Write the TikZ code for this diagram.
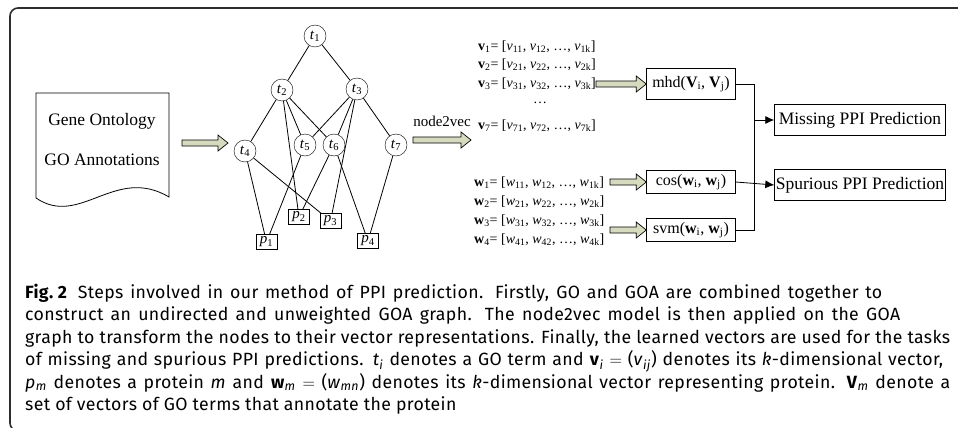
\documentclass[tikz,border=0pt]{standalone}
\usepackage{fontspec}
\setmainfont{Liberation Serif}
\newfontfamily\capfont[LetterSpace=2]{Fira Sans}
\usetikzlibrary{arrows.meta, calc, positioning}
\definecolor{arrowfill}{RGB}{214,218,190}
\definecolor{framegray}{RGB}{45,45,45}

\newcommand{\tn}[1]{\textit{t}\textsubscript{#1}}
\newcommand{\pn}[1]{\textit{p}\textsubscript{#1}}
\newcommand{\vecline}[2]{\textbf{#2}\textsubscript{#1}= [\textit{#2}\textsubscript{#11}, \textit{#2}\textsubscript{#12}, \ldots, \textit{#2}\textsubscript{#1k}]}
\newcommand{\itsub}[2]{\textit{#1}\textsubscript{\textit{#2}}}
\newcommand{\fatarrow}[2]{%
  \path[fill=arrowfill, draw=black, line width=0.7pt] let \p1=(#1), \p2=(#2) in
    (\x1,\y1+3pt) -- (\x2-10pt,\y1+3pt) -- (\x2-10pt,\y1+8pt) -- (\x2,\y1)
    -- (\x2-10pt,\y1-8pt) -- (\x2-10pt,\y1-3pt) -- (\x1,\y1-3pt) -- cycle;}

\tikzset{
  term/.style={circle, draw, inner sep=0pt, minimum size=22pt, font=\fontsize{15}{15}\selectfont},
  prot/.style={draw, inner sep=0pt, minimum width=21pt, minimum height=15pt, font=\fontsize{15}{15}\selectfont},
  simbox/.style={draw, minimum width=89pt, inner sep=0pt, font=\fontsize{16}{16}\selectfont},
  predbox/.style={draw, minimum width=171pt, minimum height=31pt, inner sep=0pt, font=\fontsize{17.5}{17.5}\selectfont},
  vecrow/.style={anchor=west, inner sep=0pt, font=\fontsize{14}{14}\selectfont},
  capline/.style={anchor=base west, inner sep=0pt, font=\capfont\fontsize{17.7}{20}\selectfont},
  edge/.style={line width=0.8pt},
}

\begin{document}
\begin{tikzpicture}[x=1pt, y=-1pt]
\useasboundingbox (0,0) rectangle (958,428);

% frame
\draw[framegray, line width=1.6pt, rounded corners=8pt] (962,8) -- (10,8) -- (10,431) -- (30,431);

% GO / GOA document
\draw[line width=0.8pt] (36,93) -- (169,93) -- (169,197)
  .. controls (115,165) and (80,228) .. (36,198) -- cycle;
\node[font=\fontsize{17.5}{17.5}\selectfont] (go) at (102,121) {Gene Ontology};
\node[font=\fontsize{17.5}{17.5}\selectfont] (goa) at (102,160) {GO Annotations};
\coordinate (a1s) at (182,143);
\coordinate (a1e) at (228,143);
\fatarrow{a1s}{a1e}

% GOA graph
\node[term] (t1) at (315,36) {\tn{1}};
\node[term] (t2) at (282,90) {\tn{2}};
\node[term] (t3) at (357,89) {\tn{3}};
\node[term] (t4) at (245,151) {\tn{4}};
\node[term] (t5) at (305,145) {\tn{5}};
\node[term] (t6) at (334,145) {\tn{6}};
\node[term] (t7) at (396,145) {\tn{7}};
\node[prot] (p1) at (266.5,242) {\pn{1}};
\node[prot] (p2) at (299,217) {\pn{2}};
\node[prot] (p3) at (330.5,221) {\pn{3}};
\node[prot] (p4) at (368,241) {\pn{4}};
\foreach \a/\b in {t1/t2, t1/t3, t2/t4, t2/p2, t2/t5, t2/t6, t3/t5, t3/t6,
                   t3/p3, t3/t7, t4/p1, t4/p3, t5/p1, t6/p2, t6/p4, t7/p4}
  \draw[edge] (\a) -- (\b);

% node2vec
\node[font=\fontsize{15}{15}\selectfont] (n2v) at (442,121) {node2vec};
\coordinate (a2s) at (413,140);
\coordinate (a2e) at (471,140);
\fatarrow{a2s}{a2e}

% vectors
\node[vecrow] (v1) at (478,47) {\vecline{1}{v}};
\node[vecrow] (v2) at (478,65) {\vecline{2}{v}};
\node[vecrow] (v3) at (478,84) {\vecline{3}{v}};
\node[font=\fontsize{14}{14}\selectfont] (vdots) at (540,103) {\ldots};
\node[vecrow] (v7) at (478,126) {\vecline{7}{v}};
\node[vecrow] (w1) at (474,183) {\vecline{1}{w}};
\node[vecrow] (w2) at (474,202) {\vecline{2}{w}};
\node[vecrow] (w3) at (474,221) {\vecline{3}{w}};
\node[vecrow] (w4) at (474,240) {\vecline{4}{w}};

% similarity boxes
\node[simbox, minimum height=31pt] (mhd) at (691,84) {mhd(\textbf{V}\textsubscript{i}, \textbf{V}\textsubscript{j})};
\node[simbox, minimum height=23pt] (cos) at (691,182) {cos(\textbf{w}\textsubscript{i}, \textbf{w}\textsubscript{j})};
\node[simbox, minimum height=23pt] (svm) at (691,230) {svm(\textbf{w}\textsubscript{i}, \textbf{w}\textsubscript{j})};
\fatarrow{v3.east}{mhd.west}
\coordinate (a3s) at (610,182);
\fatarrow{a3s}{cos.west}
\coordinate (a4s) at (610,230);
\fatarrow{a4s}{svm.west}

% predictions
\node[predbox] (miss) at (860,120) {Missing PPI Prediction};
\node[predbox] (spur) at (860,185) {Spurious PPI Prediction};
\coordinate (bus) at (754,0);
\draw[edge] (mhd.east) -- (mhd.east -| bus) |- (svm.east);
\draw[edge, -{Latex[length=9pt, width=8pt]}] (miss.west -| bus) -- (miss.west);
\draw[edge, -{Latex[length=9pt, width=8pt]}] (cos.east) -- (spur.west);

% caption
\node[capline] (c1) at (25,298) {\makebox[857pt][s]{\textbf{Fig.\hspace{0.25em}2}\hspace{0.6em}Steps involved in our method of PPI prediction. Firstly, GO and GOA are combined together to}};
\node[capline] (c2) at (25,320.5) {\makebox[875pt][s]{construct an undirected and unweighted GOA graph. The node2vec model is then applied on the GOA}};
\node[capline] (c3) at (25,343) {\makebox[925pt][s]{graph to transform the nodes to their vector representations. Finally, the learned vectors are used for the tasks}};
\node[capline] (c4) at (25,365.5) {\makebox[918pt][s]{of missing and spurious PPI predictions. \itsub{t}{i} denotes a GO term and \textbf{v}\textsubscript{\textit{i}} $=$ (\itsub{v}{ij}) denotes its \textit{k}-dimensional vector,}};
\node[capline] (c5) at (25,388) {\makebox[925pt][s]{\itsub{p}{m} denotes a protein \textit{m} and \textbf{w}\textsubscript{\textit{m}} $=$ (\itsub{w}{mn}) denotes its \textit{k}-dimensional vector representing protein. \textbf{V}\textsubscript{\textit{m}} denote a}};
\node[capline] (c6) at (25,410.5) {set of vectors of GO terms that annotate the protein};
\end{tikzpicture}
\end{document}
